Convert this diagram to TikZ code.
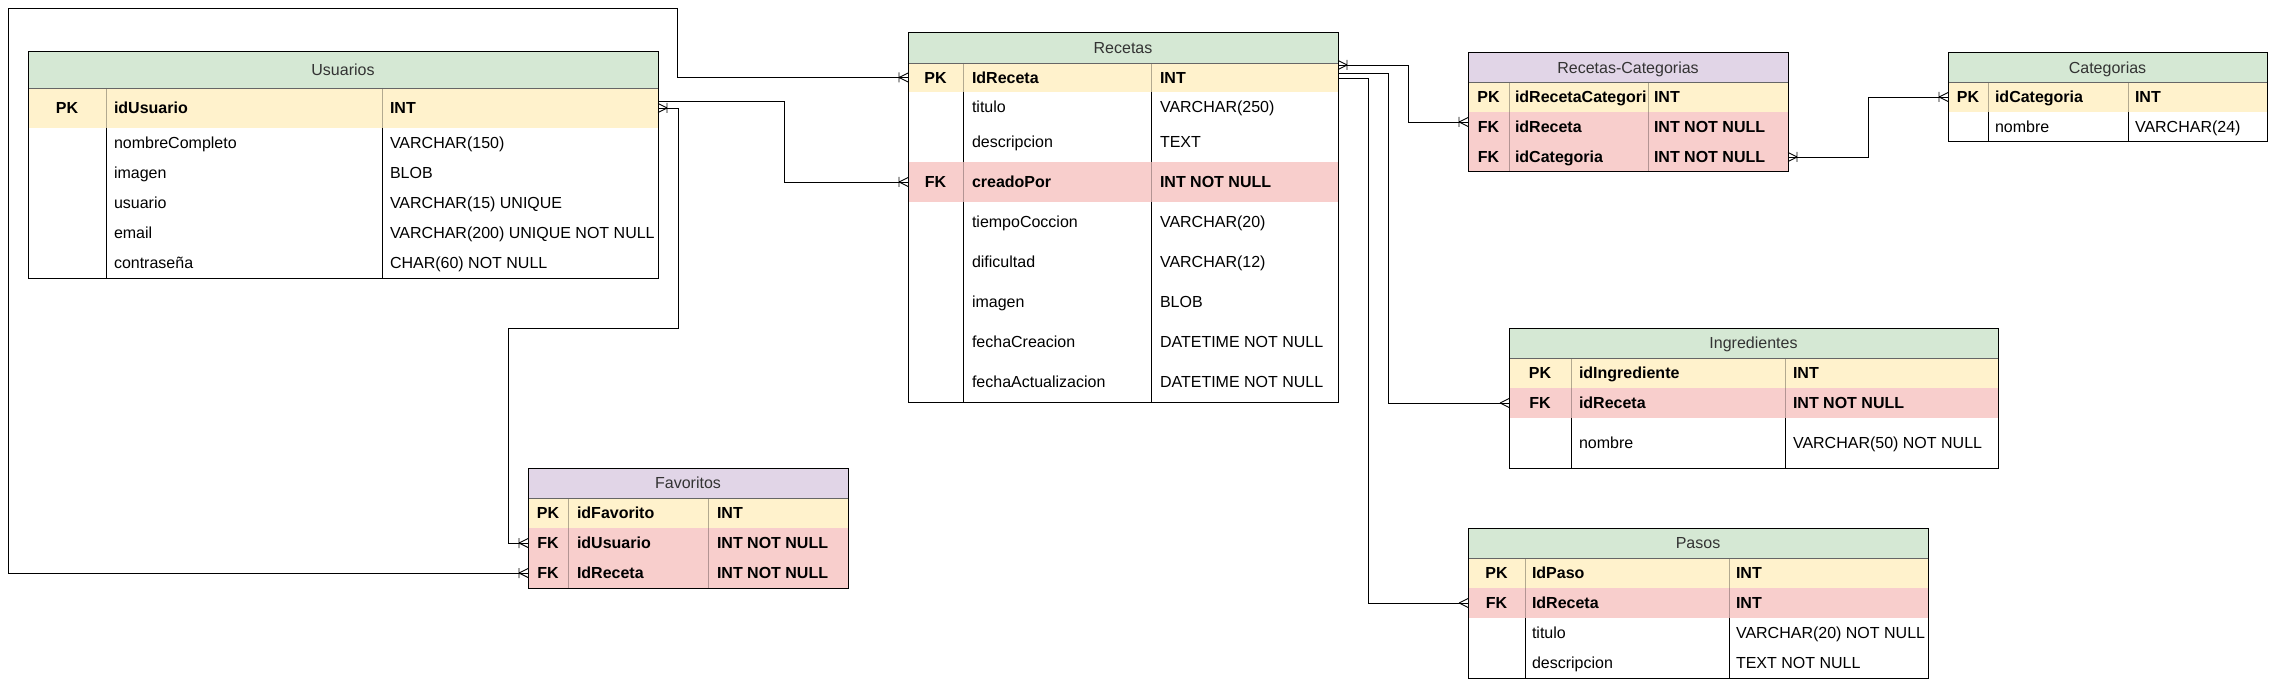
\documentclass[tikz,border=0pt]{standalone}
\usepackage{fontspec}
\setmainfont{Liberation Sans}
\usetikzlibrary{calc}
\definecolor{hgreen}{HTML}{D5E8D4}
\definecolor{hpurple}{HTML}{E1D5E7}
\definecolor{kyellow}{HTML}{FFF2CC}
\definecolor{fred}{HTML}{F8CECC}
\definecolor{ttl}{HTML}{333333}

\newcommand\tabx[5]{\def\xA{#1}\def\xB{#2}\def\xC{#3}\def\xD{#4}\def\xO{#5}}
\newcommand\ehead[5]{%
  \pgfmathsetmacro\rw{\xD-\xA}\pgfmathsetmacro\rh{#4-#3}%
  \node[rbox, fill=#2, minimum width=\rw pt, minimum height=\rh pt] (#1) at (\xA,#3) {};
  \node[htxt] (#1-t) at (#1.center) {#5};
}
\newcommand\erow[7]{%
  \pgfmathsetmacro\rw{\xD-\xA}\pgfmathsetmacro\rh{#4-#3}%
  \pgfmathsetmacro\ym{(#3+#4)/2}\pgfmathsetmacro\xk{(\xA+\xB)/2}%
  \node[rbox, row#2, minimum width=\rw pt, minimum height=\rh pt] (#1) at (\xA,#3) {};
  \draw[div#2] (\xB,#3) -- (\xB,#4) (\xC,#3) -- (\xC,#4);
  \node[txt#2] (#1-k) at (\xk,\ym) {#5};
  \node[txt#2, anchor=west] (#1-f) at (\xB+\xO,\ym) {#6};
  \node[txt#2, anchor=west] (#1-y) at (\xC+\xO,\ym) {#7};
}
\newcommand\eframe[3]{%
  \draw[hsep] (\xA,#2) -- (\xD,#2);
  \draw[frame] (\xA,#1) rectangle (\xD,#3);
}
% markers: one-or-many at west edge / east edge, many at west edge
\newcommand\mkOMW[1]{\draw[conn] (#1) ++(-9,0) -- ++(9,-4.5) (#1) ++(-9,0) -- ++(9,4.5) (#1) ++(-9,-5) -- ++(0,10);}
\newcommand\mkOME[1]{\draw[conn] (#1) ++(9,0) -- ++(-9,-4.5) (#1) ++(9,0) -- ++(-9,4.5) (#1) ++(9,-5) -- ++(0,10);}
\newcommand\mkMW[1]{\draw[conn] (#1) ++(-9,0) -- ++(9,-4.5) (#1) ++(-9,0) -- ++(9,4.5);}

\begin{document}
\begin{tikzpicture}[x=1pt,y=-1pt,
  rbox/.style={anchor=north west, inner sep=0pt, outer sep=0pt, draw=none},
  rowP/.style={fill=white},
  rowK/.style={fill=kyellow},
  rowF/.style={fill=fred},
  divP/.style={draw=black, line width=0.9pt},
  divK/.style={draw=black!30!kyellow, line width=0.9pt},
  divF/.style={draw=black!28!fred, line width=0.9pt},
  basetxt/.style={inner sep=0pt, outer sep=0pt, text height=11.5pt, text depth=0pt, text=black},
  txtP/.style={basetxt, font=\fontsize{16}{19}\selectfont},
  txtK/.style={basetxt, font=\fontsize{16}{19}\selectfont\bfseries},
  txtF/.style={basetxt, font=\fontsize{16}{19}\selectfont\bfseries},
  htxt/.style={basetxt, text=ttl, font=\fontsize{16}{19}\selectfont},
  hsep/.style={draw=black!60, line width=0.9pt},
  frame/.style={draw=black, line width=1pt},
  conn/.style={draw=black, line width=0.9pt, line cap=butt, line join=miter}
]
\useasboundingbox (0,0) rectangle (2269,679);
\fill[white] (0,0) rectangle (2269,679);

% ---------------- Usuarios
\tabx{28}{106}{382}{658}{8}
\ehead{usu}{hgreen}{52}{88}{Usuarios}
\erow{usu-pk}{K}{88}{128}{PK}{idUsuario}{INT}
\erow{usu-r1}{P}{128}{158}{}{nombreCompleto}{VARCHAR(150)}
\erow{usu-r2}{P}{158}{188}{}{imagen}{BLOB}
\erow{usu-r3}{P}{188}{218}{}{usuario}{VARCHAR(15) UNIQUE}
\erow{usu-r4}{P}{218}{248}{}{email}{VARCHAR(200) UNIQUE NOT NULL}
\erow{usu-r5}{P}{248}{278}{}{contraseña}{CHAR(60) NOT NULL}
\eframe{52}{88}{278}

% ---------------- Recetas
\tabx{908}{963}{1151}{1338}{9}
\ehead{rec}{hgreen}{33}{63}{Recetas}
\erow{rec-pk}{K}{63}{92}{PK}{IdReceta}{INT}
\erow{rec-r1}{P}{92}{122}{}{titulo}{VARCHAR(250)}
\erow{rec-r2}{P}{122}{162}{}{descripcion}{TEXT}
\erow{rec-fk}{F}{162}{202}{FK}{creadoPor}{INT NOT NULL}
\erow{rec-r3}{P}{202}{242}{}{tiempoCoccion}{VARCHAR(20)}
\erow{rec-r4}{P}{242}{282}{}{dificultad}{VARCHAR(12)}
\erow{rec-r5}{P}{282}{322}{}{imagen}{BLOB}
\erow{rec-r6}{P}{322}{362}{}{fechaCreacion}{DATETIME NOT NULL}
\erow{rec-r7}{P}{362}{402}{}{fechaActualizacion}{DATETIME NOT NULL}
\eframe{33}{63}{402}

% ---------------- Recetas-Categorias
\tabx{1468}{1509}{1648}{1788}{6}
\ehead{rc}{hpurple}{53}{82}{Recetas-Categorias}
\erow{rc-pk}{K}{82}{112}{PK}{idRecetaCategori}{INT}
\erow{rc-fk1}{F}{112}{142}{FK}{idReceta}{INT NOT NULL}
\erow{rc-fk2}{F}{142}{172}{FK}{idCategoria}{INT NOT NULL}
\eframe{53}{82}{172}

% ---------------- Categorias
\tabx{1948}{1988}{2128}{2267}{7}
\ehead{cat}{hgreen}{53}{82}{Categorias}
\erow{cat-pk}{K}{82}{112}{PK}{idCategoria}{INT}
\erow{cat-r1}{P}{112}{142}{}{nombre}{VARCHAR(24)}
\eframe{53}{82}{142}

% ---------------- Ingredientes
\tabx{1509}{1571}{1785}{1998}{8}
\ehead{ing}{hgreen}{328}{358}{Ingredientes}
\erow{ing-pk}{K}{358}{388}{PK}{idIngrediente}{INT}
\erow{ing-fk}{F}{388}{418}{FK}{idReceta}{INT NOT NULL}
\erow{ing-r1}{P}{418}{468}{}{nombre}{VARCHAR(50) NOT NULL}
\eframe{328}{358}{468}

% ---------------- Pasos
\tabx{1468}{1525}{1729}{1928}{7}
\ehead{pas}{hgreen}{528}{558}{Pasos}
\erow{pas-pk}{K}{558}{588}{PK}{IdPaso}{INT}
\erow{pas-fk}{F}{588}{618}{FK}{IdReceta}{INT}
\erow{pas-r1}{P}{618}{648}{}{titulo}{VARCHAR(20) NOT NULL}
\erow{pas-r2}{P}{648}{678}{}{descripcion}{TEXT NOT NULL}
\eframe{528}{558}{678}

% ---------------- Favoritos
\tabx{528}{568}{708}{848}{9}
\ehead{fav}{hpurple}{468}{498}{Favoritos}
\erow{fav-pk}{K}{498}{528}{PK}{idFavorito}{INT}
\erow{fav-fk1}{F}{528}{558}{FK}{idUsuario}{INT NOT NULL}
\erow{fav-fk2}{F}{558}{588}{FK}{IdReceta}{INT NOT NULL}
\eframe{468}{498}{588}

% ---------------- Connectors
% Favoritos.IdReceta -> Recetas.IdReceta
\draw[conn] (fav-fk2.west) -| (8,8) -- (677,8) |- (rec-pk.west);
\mkOMW{fav-fk2.west}
\mkOMW{rec-pk.west}
% Usuarios.idUsuario -> Recetas.creadoPor
\draw[conn] ([yshift=7pt]usu-pk.east) -| (784,182) -- (rec-fk.west);
\mkOMW{rec-fk.west}
% Usuarios.idUsuario -> Favoritos.idUsuario
\draw[conn] (usu-pk.east) -| (678,328) -| (508,543) -- (fav-fk1.west);
\mkOME{usu-pk.east}
\mkOMW{fav-fk1.west}
% Recetas -> Recetas-Categorias
\draw[conn] ([yshift=12.5pt]rec-pk.east) -| (1408,122) -- ([yshift=5pt]rc-fk1.west);
\mkOME{[yshift=12.5pt]rec-pk.east}
\mkOMW{[yshift=5pt]rc-fk1.west}
% Recetas -> Ingredientes
\draw[conn] ([yshift=4.5pt]rec-pk.east) -| (1388,403) -- (ing-fk.west);
\mkMW{ing-fk.west}
% Recetas -> Pasos
\draw[conn] ([yshift=-0.5pt]rec-pk.east) -| (1368,603) -- (pas-fk.west);
\mkMW{pas-fk.west}
% Recetas-Categorias -> Categorias
\draw[conn] (rc-fk2.east) -| (1868,97) -- (cat-pk.west);
\mkOME{rc-fk2.east}
\mkOMW{cat-pk.west}
\end{tikzpicture}
\end{document}
